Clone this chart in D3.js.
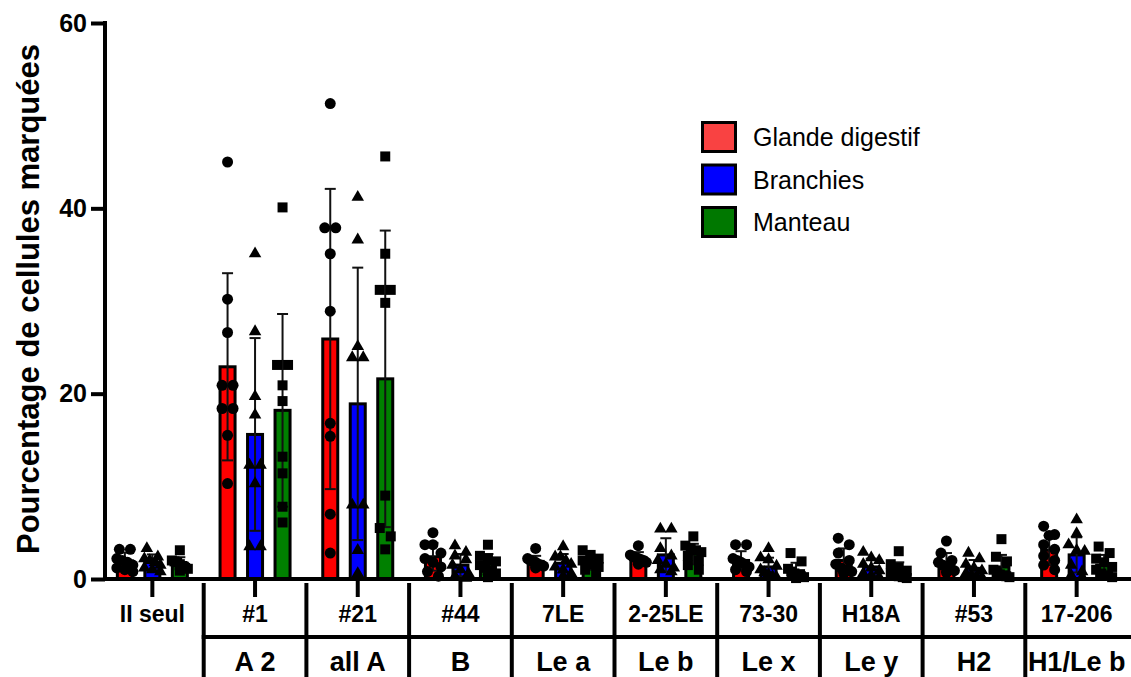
<!DOCTYPE html>
<html>
<head>
<meta charset="utf-8">
<script src="https://cdn.jsdelivr.net/npm/d3@7"></script>
<style>
  body { margin: 0; background: #fff; }
  text { font-family: "Liberation Sans", Arial, Helvetica, sans-serif; }
</style>
</head>
<body>
<svg id="chart" width="1131" height="677"></svg>
<script>
// Antibodies (top row) and the antigen each one recognises (bottom row)
const antibodies = ["II seul", "#1", "#21", "#44", "7LE", "2-25LE", "73-30", "H18A", "#53", "17-206"];
const antigens   = ["", "A 2", "all A", "B", "Le a", "Le b", "Le x", "Le y", "H2", "H1/Le b"];
const tissues    = ["Glande digestif", "Branchies", "Manteau"];
const yTicks     = [0, 20, 40, 60];

// Mean percentage of labelled cells per tissue
const meanGlande    = [1.95, 22.9, 25.9, 2.4, 1.9, 2.3, 2.0, 2.0, 1.8, 3.1];
const meanBranchies = [1.8, 15.6, 18.9, 1.5, 1.7, 2.6, 1.3, 1.3, 1.15, 2.6];
const meanManteau   = [1.7, 18.2, 21.6, 1.6, 1.8, 2.7, 0.9, 0.9, 1.3, 1.5];

// Standard deviations
const sdGlande    = [0.9, 10.1, 16.2, 1.5, 0.6, 0.6, 1.0, 1.3, 1.0, 1.6];
const sdBranchies = [0.85, 10.4, 14.7, 1.2, 1.0, 1.8, 1.0, 0.9, 0.9, 1.9];
const sdManteau   = [0.65, 10.4, 16.0, 1.1, 0.8, 1.1, 0.85, 0.9, 1.3, 1.1];

// Individual measurements
const ptsGlande = [
  [3.2, 3.2, 2.2, 2.0, 1.8, 1.5, 1.2, 1.0, 0.8],
  [45.0, 30.2, 26.6, 20.9, 20.9, 18.4, 18.4, 15.5, 10.3],
  [51.3, 37.9, 37.9, 35.1, 28.9, 16.8, 15.4, 7.0, 2.8],
  [5.0, 3.7, 3.7, 2.8, 2.2, 1.8, 1.3, 0.8, 0.3],
  [3.3, 2.2, 2.0, 1.9, 1.8, 1.6, 1.5, 1.4, 1.2],
  [3.6, 2.6, 2.4, 2.3, 2.2, 2.1, 2.0, 1.8, 1.6],
  [3.7, 3.7, 2.2, 2.0, 1.8, 1.6, 1.3, 1.0, 0.8],
  [4.4, 3.7, 2.8, 2.0, 1.6, 1.2, 1.0, 0.8, 0.6],
  [4.1, 2.8, 2.0, 1.8, 1.5, 1.3, 1.1, 0.9, 0.7],
  [5.7, 4.8, 4.7, 3.7, 3.2, 2.5, 2.0, 1.5, 1.0]
];
const ptsBranchies = [
  [3.3, 2.4, 2.2, 2.0, 1.8, 1.5, 1.2, 1.0, 0.8],
  [35.1, 26.7, 19.7, 17.7, 12.3, 12.3, 10.3, 3.5, 3.5],
  [41.2, 36.6, 25.1, 23.9, 23.9, 8.0, 8.0, 3.1, 0.6],
  [3.6, 2.9, 2.5, 2.1, 1.5, 1.0, 0.6, 0.3, 0.1],
  [3.5, 2.4, 2.4, 2.0, 1.6, 1.3, 1.0, 0.6, 0.3],
  [5.4, 5.4, 3.3, 2.5, 2.0, 1.6, 1.2, 1.0, 0.8],
  [3.3, 2.3, 2.1, 1.4, 1.0, 0.7, 0.5, 0.3, 0.2],
  [2.9, 2.3, 2.0, 1.6, 1.2, 0.9, 0.6, 0.4, 0.2],
  [2.8, 2.2, 1.6, 1.2, 0.9, 0.6, 0.4, 0.3, 0.2],
  [6.4, 4.9, 3.7, 3.1, 3.0, 1.5, 0.8, 0.4, 0.2]
];
const ptsManteau = [
  [3.1, 2.0, 1.9, 1.8, 1.6, 1.4, 1.2, 1.1, 0.9],
  [40.1, 23.1, 23.1, 20.9, 19.2, 13.2, 11.4, 7.8, 6.1],
  [45.6, 35.1, 31.2, 31.2, 29.8, 9.0, 5.5, 4.6, 3.2],
  [3.7, 2.5, 2.2, 1.9, 1.5, 1.2, 0.9, 0.6, 0.2],
  [3.1, 2.6, 2.2, 2.0, 1.8, 1.6, 1.3, 1.0, 0.6],
  [4.6, 3.6, 3.3, 3.1, 2.9, 2.5, 2.0, 1.5, 1.0],
  [2.8, 1.9, 1.1, 0.8, 0.6, 0.4, 0.3, 0.2, 0.1],
  [3.0, 1.6, 1.2, 0.9, 0.6, 0.4, 0.3, 0.2, 0.1],
  [4.3, 2.4, 1.9, 1.0, 0.7, 0.5, 0.4, 0.3, 0.2],
  [3.5, 2.8, 2.2, 1.8, 1.3, 1.0, 0.6, 0.4, 0.2]
];

const means  = [meanGlande, meanBranchies, meanManteau];
const sds    = [sdGlande, sdBranchies, sdManteau];
const points = [ptsGlande, ptsBranchies, ptsManteau];

const barColors    = ["#ff0000", "#0000ff", "#008000"];
const legendColors = ["#f94242", "#0000ff", "#007800"];
const symbols      = [d3.symbolCircle, d3.symbolTriangle, d3.symbolSquare];
const symbolSizes  = [95, 68, 100];

const W = 1131, H = 677;
const svg = d3.select("#chart");
svg.append("rect").attr("width", W).attr("height", H).attr("fill", "#fff");

const axisX = 105, baseY = 579;

const x = d3.scaleBand().domain(antibodies).range([101, 1128]).paddingInner(0).paddingOuter(0);
const xs = d3.scaleBand().domain(tissues).range([0, x.bandwidth()]).paddingInner(0.345).paddingOuter(0.54);
const y = d3.scaleLinear().domain([0, 60]).range([baseY, 23]);

// ---- bars, error bars, points ----
const plot = svg.append("g");
tissues.forEach((t, si) => {
  const g = plot.append("g");
  antibodies.forEach((ab, gi) => {
    const bx = x(ab) + xs(t);
    const bw = xs.bandwidth();
    const m = means[si][gi];
    g.append("rect")
      .attr("x", bx + 1.5).attr("width", bw - 3)
      .attr("y", y(m)).attr("height", y(0) - y(m))
      .attr("fill", barColors[si]).attr("stroke", "#000").attr("stroke-width", 3);
  });
});

tissues.forEach((t, si) => {
  antibodies.forEach((ab, gi) => {
    const cx = x(ab) + xs(t) + xs.bandwidth() / 2;
    const m = means[si][gi], s = sds[si][gi];
    const lo = Math.max(0, m - s), hi = m + s;
    const e = plot.append("g").attr("stroke", "#111").attr("stroke-width", 2);
    e.append("line").attr("x1", cx).attr("x2", cx).attr("y1", y(lo)).attr("y2", y(hi));
    e.append("line").attr("x1", cx - 5.5).attr("x2", cx + 5.5).attr("y1", y(hi)).attr("y2", y(hi));
    if (m - s > 0) e.append("line").attr("x1", cx - 5.5).attr("x2", cx + 5.5).attr("y1", y(lo)).attr("y2", y(lo));
  });
});

// scatter points: values closer than a marker height share a row and are spread sideways
function spread(vals) {
  const sorted = vals.slice().sort((a, b) => b - a);
  const rows = [];
  sorted.forEach(v => {
    const r = rows[rows.length - 1];
    if (r && (y(v) - y(r[0])) < 8.5) r.push(v); else rows.push([v]);
  });
  const out = [];
  rows.forEach(r => {
    const k = r.length;
    const step = k > 1 ? Math.min(11, 16 / (k - 1)) : 0;
    r.forEach((v, j) => out.push({ v, dx: (j - (k - 1) / 2) * step }));
  });
  return out;
}

tissues.forEach((t, si) => {
  const sym = d3.symbol().type(symbols[si]).size(symbolSizes[si]);
  antibodies.forEach((ab, gi) => {
    const cx = x(ab) + xs(t) + xs.bandwidth() / 2;
    plot.append("g").selectAll("path")
      .data(spread(points[si][gi]))
      .join("path")
      .attr("d", sym)
      .attr("transform", d => `translate(${cx + d.dx},${y(d.v)})`)
      .attr("fill", "#000");
  });
});

// ---- y axis ----
const yAxis = svg.append("g").attr("transform", `translate(${axisX},0)`)
  .call(d3.axisLeft(y).tickValues(yTicks).tickSize(14).tickSizeOuter(0).tickPadding(4));
yAxis.select(".domain").attr("stroke", "#000").attr("stroke-width", 4)
  .attr("d", `M0,${y(60) - 2}V${baseY + 2}`);
yAxis.selectAll(".tick line").attr("stroke", "#000").attr("stroke-width", 4);
yAxis.selectAll(".tick text").attr("fill", "#000")
  .style("font-size", "25px").style("font-weight", "bold")
  .style("font-family", "'Liberation Sans', Arial, sans-serif");

svg.append("text")
  .attr("transform", `translate(28,${(y(60) + baseY) / 2 - 2}) rotate(-90)`)
  .attr("text-anchor", "middle").attr("dominant-baseline", "central")
  .style("font-size", "31px").style("font-weight", "bold")
  .text("Pourcentage de cellules marquées");

// ---- x axis with two-row category table ----
svg.append("line").attr("x1", axisX - 2).attr("x2", W).attr("y1", baseY).attr("y2", baseY)
  .attr("stroke", "#000").attr("stroke-width", 4);

const xAxis = svg.append("g").attr("transform", `translate(0,${baseY})`)
  .call(d3.axisBottom(x).tickSize(18).tickSizeOuter(0).tickPadding(9));
xAxis.select(".domain").remove();
xAxis.selectAll(".tick line").attr("stroke", "#000").attr("stroke-width", 4);
xAxis.selectAll(".tick text").attr("fill", "#000")
  .style("font-size", "23px").style("font-weight", "bold")
  .style("font-family", "'Liberation Sans', Arial, sans-serif");

const table = svg.append("g").attr("stroke", "#000").attr("stroke-width", 4);
antibodies.slice(1).forEach(ab => {
  table.append("line").attr("x1", x(ab)).attr("x2", x(ab)).attr("y1", baseY + 4).attr("y2", H);
});
table.append("line").attr("x1", x(antibodies[1]) - 2).attr("x2", W).attr("y1", 637).attr("y2", 637);

svg.append("g").selectAll("text")
  .data(antibodies.map((ab, i) => ({ ab, label: antigens[i] })).filter(d => d.label))
  .join("text")
  .attr("x", d => x(d.ab) + x.bandwidth() / 2)
  .attr("y", 671)
  .attr("text-anchor", "middle")
  .style("font-size", "27px").style("font-weight", "bold")
  .text(d => d.label);

// ---- legend ----
const legend = svg.append("g").attr("transform", "translate(701,121)");
tissues.forEach((t, i) => {
  const row = legend.append("g").attr("transform", `translate(0,${i * 42.5})`);
  row.append("rect").attr("x", 1.5).attr("y", 1.5).attr("width", 33).attr("height", 29)
    .attr("fill", legendColors[i]).attr("stroke", "#000").attr("stroke-width", 3);
  row.append("text").attr("x", 52).attr("y", 16).attr("dominant-baseline", "central")
    .style("font-size", "25px").text(t);
});
</script>
</body>
</html>
